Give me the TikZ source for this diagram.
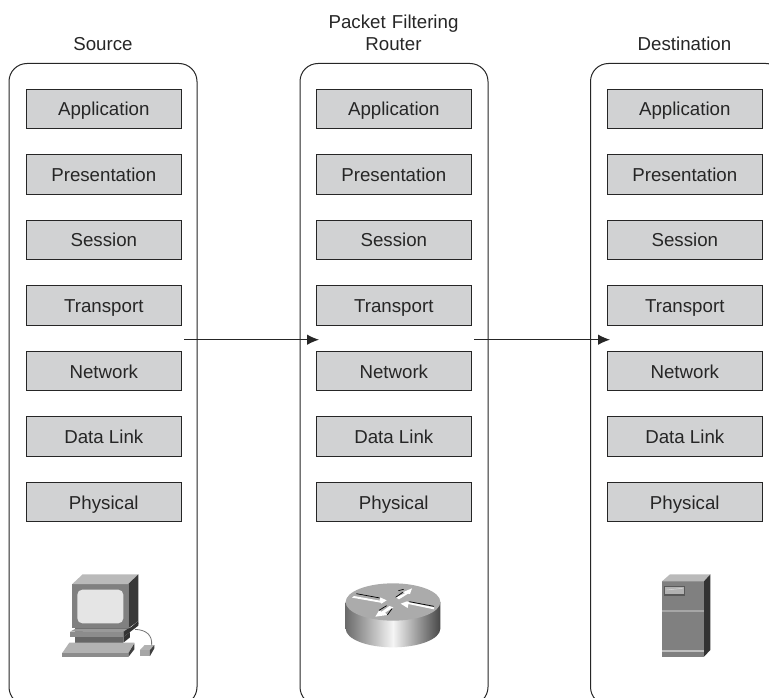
\documentclass[tikz,border=0pt]{standalone}
\usepackage{fontspec}
\setmainfont{Liberation Sans}
\definecolor{ink}{HTML}{262626}
\definecolor{boxfill}{HTML}{D1D2D3}
\usetikzlibrary{arrows.meta}
\tikzset{
  container/.style={draw=ink,line width=1pt,rounded corners=18pt,fill=white},
  layer/.style={draw=ink,line width=1pt,fill=boxfill,minimum width=155pt,minimum height=39.5pt,inner sep=0pt,
    text=ink,text height=14pt,text depth=0pt,font=\fontsize{18.7pt}{22pt}\selectfont},
  caption/.style={text=ink,font=\fontsize{18.7pt}{22pt}\selectfont,align=center,inner sep=0pt,anchor=base},
  flow/.style={draw=ink,line width=1pt,-{Latex[length=12pt,width=10.5pt]}},
}
\begin{document}
\begin{tikzpicture}[x=1pt,y=-1pt]
\path[use as bounding box] (0,0) rectangle (769,698);
\begin{scope}
\clip (0,0) rectangle (769,698);
\draw[container] (9,63.5) rectangle (197,705);
\draw[container] (300,63.5) rectangle (488,705);
\draw[container] (590.5,63.5) rectangle (784,705);
\end{scope}
\node[caption] (srcl) at (103,51) {Source};
\node[caption,text width=200pt] (rtrl) at (393.5,29) {Packet Filtering\\Router};
\node[caption] (dstl) at (684.5,51) {Destination};
\foreach \n/\t/\y in {1/Application/109,2/Presentation/174.5,3/Session/240,4/Transport/305.5,5/Network/371,6/Data Link/436.5,7/Physical/502}{
  \node[layer] (s\n) at (103.8,\y) {\t};
  \node[layer] (r\n) at (393.8,\y) {\t};
  \node[layer] (d\n) at (684.8,\y) {\t};
}
\coordinate (a1s) at (184,339.7);
\coordinate (a1e) at (319,339.7);
\coordinate (a2s) at (474,339.7);
\coordinate (a2e) at (610,339.7);
\draw[flow] (a1s) -- (a1e);
\draw[flow] (a2s) -- (a2e);

% computer
\begin{scope}[shift={(40,560)},scale=1/3]
\fill[color=black!30] (300,270) -- (314,255) -- (343,255) -- (330,270) -- cycle;
\fill[color=black!35] (300,270) rectangle (330,288);
\fill[color=black!75] (330,270) -- (343,255) -- (343,265) -- (330,288) -- cycle;
\draw[color=black!55,line width=0.8pt] (285,208) .. controls (320,210) and (337,225) .. (335,256);
\fill[color=black!50] (97,72) rectangle (265,205);
\fill[color=black!27] (97,72) -- (128,43) -- (295,43) -- (265,72) -- cycle;
\fill[color=black!78] (265,72) -- (295,43) -- (295,183) -- (265,205) -- cycle;
\fill[color=black!10,rounded corners=5pt] (112,89) rectangle (250,190);
\fill[color=black!85] (105,205) -- (270,205) -- (295,183) -- (295,192) -- (265,215) -- (105,215) -- cycle;
\fill[color=black!40] (90,215) -- (105,207) -- (262,207) -- (250,216) -- cycle;
\fill[color=black!45] (90,216) rectangle (250,231);
\fill[color=black!80] (250,216) -- (295,188) -- (295,197) -- (250,231) -- cycle;
\fill[color=black!60] (105,231) rectangle (250,248);
\fill[color=black!80] (250,231) -- (270,216) -- (270,232) -- (250,248) -- cycle;
\fill[color=black!30] (88,248) -- (283,248) -- (265,280) -- (66,280) -- cycle;
\fill[color=black!45] (66,280) rectangle (265,291);
\fill[color=black!75] (265,280) -- (283,250) -- (283,268) -- (265,291) -- cycle;
\end{scope}

% router
\begin{scope}[shift={(330,560)},scale=1/3]
\shade[left color=black!58,right color=black!72,middle color=black!4]
  (47,126) -- (47,206) .. controls (47,237) and (110,262) .. (189,262) .. controls (268,262) and (331,237) .. (331,206) -- (331,126) -- cycle;
\fill[color=black!33] (189,126) ellipse[x radius=142,y radius=56];
% flat arrows
\fill[white] (72,108) -- (150,122) -- (148,111) -- (170,121) -- (154,131) -- (152,128) -- (66,113) -- cycle;
\draw[black,line width=0.7pt] (79,101) -- (150,114);
\fill[white] (312,148) -- (235,132) -- (233,144) -- (212,131) -- (231,124) -- (237,127) -- (312,142) -- cycle;
\draw[black,line width=0.7pt] (238,125) -- (312,139);
\fill[white] (197,112) -- (225,100) -- (220,96) -- (246,85) -- (240,102) -- (234,101) -- (207,118) -- cycle;
\draw[black,line width=0.7pt] (197,112) -- (218,97) (205,92) -- (221,88);
\fill[white] (190,142) -- (165,158) -- (172,165) -- (136,170) -- (147,152) -- (155,155) -- (178,138) -- cycle;
\draw[black,line width=0.7pt] (147,151) -- (170,137) (172,165) -- (186,146);
\end{scope}

% server
\begin{scope}[shift={(620,560)},scale=1/3]
\fill[color=black!50] (126,64) rectangle (252,290);
\fill[color=black!27] (126,64) -- (150,43) -- (271,43) -- (252,64) -- cycle;
\fill[color=black!80] (252,64) -- (271,43) -- (271,270) -- (252,290) -- cycle;
\fill[color=black!65] (133,79) rectangle (194,107);
\fill[color=black!30] (136,82) rectangle (191,103);
\draw[color=black!15,line width=0.5pt] (140,90) -- (188,85);
\fill[color=black!35] (126,149) rectangle (252,155);
\fill[color=black!25] (126,270) rectangle (252,275);
\end{scope}
\end{tikzpicture}
\end{document}
